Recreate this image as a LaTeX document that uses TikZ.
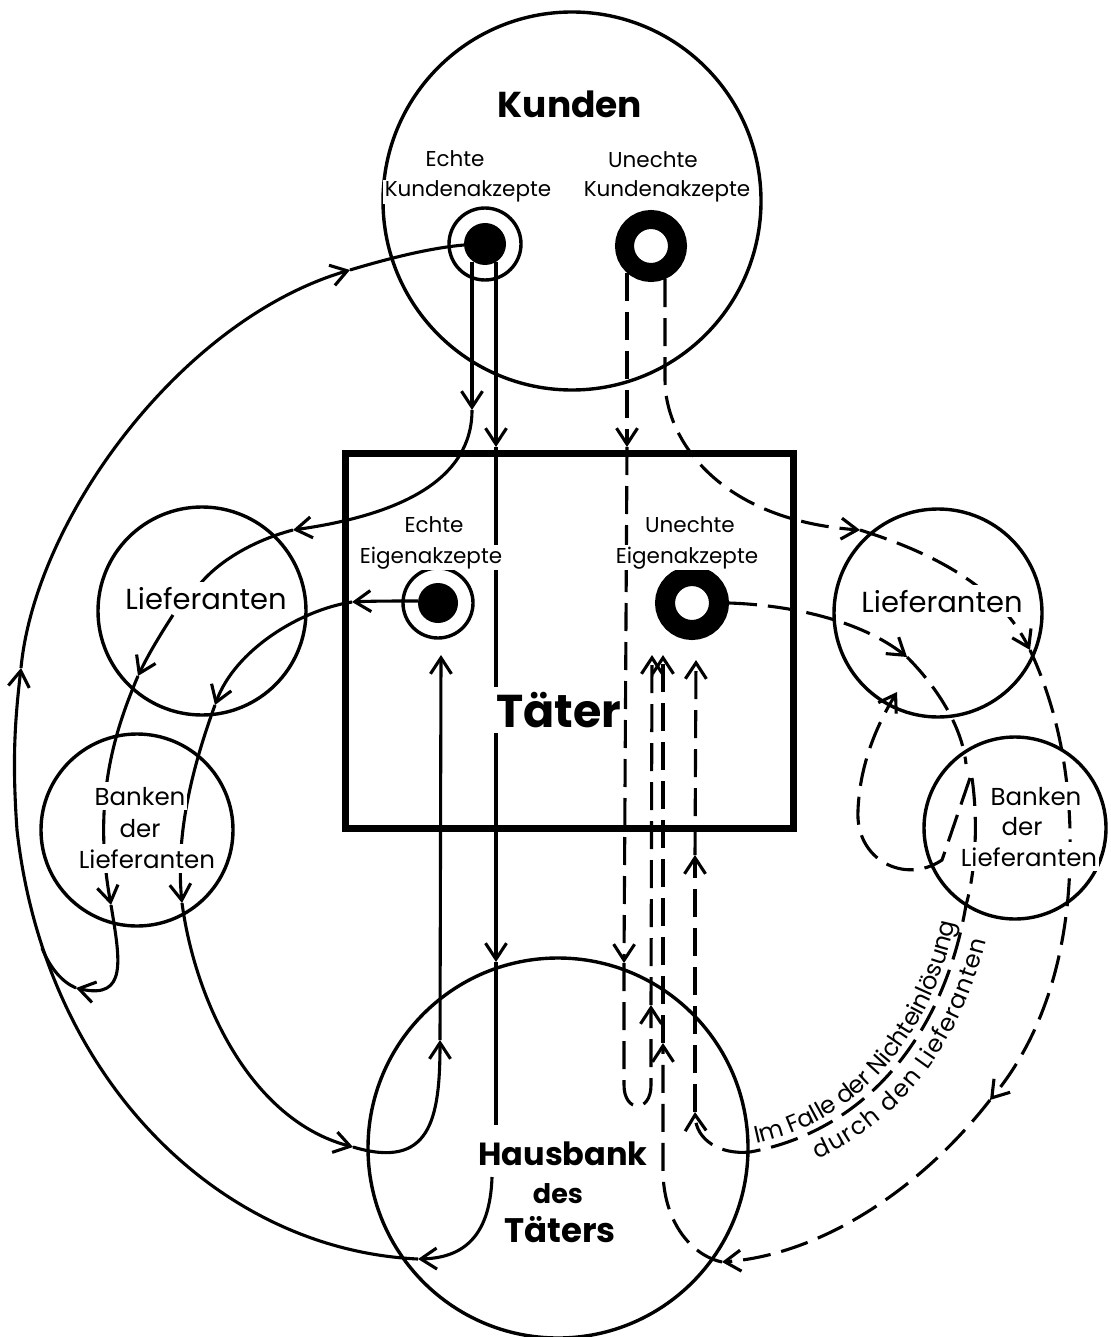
\documentclass[tikz,border=0pt]{standalone}
\usepackage{fontspec}
\setmainfont{Poppins}
\usetikzlibrary{arrows.meta,decorations.text}

\begin{document}
\begin{tikzpicture}[x=1pt,y=-1pt,>={Straight Barb[length=16pt,width=21pt]},
    flow/.style={line width=3.1pt},
    fake/.style={flow,dash pattern=on 28pt off 11pt},
    ring/.style={circle,draw,line width=3.4pt,inner sep=0pt,minimum size=#1},
    lbl/.style={font=\fontsize{21.5}{24}\selectfont,anchor=base,fill=white,inner sep=1.5pt},
    lieflbl/.style={font=\fontsize{29}{32}\selectfont,anchor=base,fill=white,inner xsep=2pt,inner ysep=5pt},
    banklbl/.style={font=\fontsize{24.5}{28}\selectfont,anchor=base,fill=white,inner xsep=2pt,inner ysep=5pt},
    head/.style={font=\bfseries\fontsize{#1}{#1}\selectfont,anchor=base,fill=white,inner sep=1.5pt}]
  \useasboundingbox (0,0) rectangle (1110,1337);

  % Kreise und Kasten
  \node[ring=378pt] (kunden) at (572,201) {};
  \node[ring=208pt] (liefl) at (202,611) {};
  \node[ring=208pt] (liefr) at (938,613) {};
  \node[ring=192pt] (bankl) at (137,830) {};
  \node[ring=182pt] (bankr) at (1015,828) {};
  \node[ring=380pt] (haus) at (558,1148) {};
  \node[draw,line width=7pt,inner sep=0pt,minimum width=448pt,minimum height=375pt] (taeter) at (569,640.5) {};

  % Akzepte
  \node[ring=72pt] (ekk) at (485,244) {};
  \fill (ekk.center) circle (21);
  \node[circle,draw,line width=19pt,inner sep=0pt,minimum size=53pt] (ukk) at (651,246) {};
  \node[ring=70pt] (eek) at (438,603) {};
  \fill (eek.center) circle (20);
  \node[circle,draw,line width=20pt,inner sep=0pt,minimum size=54pt] (uek) at (692,603) {};

  % echte Kundenakzepte
  \draw[flow,->] (472,262) -- (472,410);
  \draw[flow,->] (472,410) .. controls (472,480) and (400,515) .. (293,530);
  \draw[flow] (293,530) .. controls (255,540) and (220,560) .. (200,584);
  \draw[flow,->] (496,262) -- (496,447);
  \draw[flow] (496,447) -- (496,687);
  \draw[flow,->] (496,733) -- (496,962);
  \draw[flow] (496,962) -- (496,1125);
  \draw[flow,->] (492,1177) .. controls (490,1240) and (460,1258) .. (418,1259);
  \draw[flow] (418,1259) .. controls (220,1250) and (45,1080) .. (17,830);
  \draw[flow,->] (17,830) .. controls (12,760) and (15,720) .. (21,668);
  \draw[flow,->] (21,668) .. controls (35,520) and (180,320) .. (350,270);
  \draw[flow] (350,270) .. controls (390,258) and (430,248) .. (464,245);
  \draw[flow,->] (173,615) .. controls (160,635) and (148,655) .. (138,676);
  \draw[flow,->] (138,676) .. controls (115,730) and (92,800) .. (111,905);
  \draw[flow,->] (111,905) .. controls (120,960) and (128,1000) .. (76,988);
  \draw[flow] (76,988) .. controls (62,982) and (50,968) .. (42,948);

  % echte Eigenakzepte
  \draw[flow,->] (418,601) .. controls (395,601) and (372,601) .. (352,602);
  \draw[flow,->] (352,602) .. controls (300,610) and (235,650) .. (215,705);
  \draw[flow,->] (215,705) .. controls (195,760) and (175,830) .. (182,903);
  \draw[flow,->] (182,903) .. controls (195,1000) and (250,1120) .. (353,1147);
  \draw[flow,->] (353,1147) .. controls (430,1170) and (440,1120) .. (440,1040);
  \draw[flow,->] (440,1040) -- (441,655);

  % unechte Kundenakzepte
  \draw[fake,->] (627,273) -- (627,447);
  \draw[fake,->] (627,447) -- (624,963);
  \draw[fake,->] (624,963) -- (624,1085) .. controls (624,1113) and (651,1113) .. (651,1085) -- (651,1005);
  \draw[fake,->] (651,1005) -- (652,655);
  \draw[fake,->] (665,279) -- (665,380) .. controls (665,440) and (720,520) .. (860,530);
  \draw[fake,->] (860,530) .. controls (940,555) and (1000,590) .. (1030,650);
  \draw[fake,->] (1030,650) .. controls (1058,710) and (1072,780) .. (1070,860)
    .. controls (1068,960) and (1040,1040) .. (990,1100);
  \draw[fake,->] (990,1100) .. controls (920,1190) and (820,1255) .. (722,1262);
  \draw[fake,->] (722,1262) .. controls (690,1255) and (663,1220) .. (663,1170) -- (663,1043);
  \draw[fake,->] (663,1043) -- (663,655);

  % unechte Eigenakzepte
  \draw[fake,->] (729,603) .. controls (790,605) and (860,620) .. (907,657);
  \draw[fake] (907,657) .. controls (935,685) and (962,725) .. (966,764);
  \draw[fake,->] (970,778) -- (942,860) .. controls (905,885) and (855,860) .. (858,810)
    .. controls (860,760) and (880,720) .. (897,692);
  \draw[fake] (972,778) .. controls (978,820) and (976,870) .. (966,905)
    .. controls (945,1030) and (870,1130) .. (750,1152);
  \draw[fake,->] (750,1152) .. controls (720,1155) and (696,1140) .. (695,1112);
  \draw[fake,->] (695,1112) -- (695,855);
  \draw[fake,->] (695,855) -- (696,660);

  % Beschriftung
  \node[head=36] at (570,118) {Kunden};
  \node[lbl] at (455,167) {Echte};
  \node[lbl] at (468,197) {Kundenakzepte};
  \node[lbl] at (653,168) {Unechte};
  \node[lbl] at (667,197) {Kundenakzepte};
  \node[lbl] at (434,532) {Echte};
  \node[lbl] at (431,563) {Eigenakzepte};
  \node[lbl] at (690,532) {Unechte};
  \node[lbl] at (687,563) {Eigenakzepte};
  \node[head=46,fill=none] at (559,727) {Täter};
  \node[lieflbl] at (206,609) {Lieferanten};
  \node[lieflbl] at (942,612) {Lieferanten};
  \node[banklbl] at (140,805) {Banken};
  \node[banklbl,inner ysep=1pt] at (140,837) {der};
  \node[banklbl] at (147,868) {Lieferanten};
  \node[banklbl] at (1036,805) {Banken};
  \node[banklbl,inner ysep=1pt] at (1022,835) {der};
  \node[banklbl] at (1029,866) {Lieferanten};
  \node[head=32] at (563,1165) {Hausbank};
  \node[head=27] at (558,1203) {des};
  \node[head=34] at (560,1242) {Täters};
  \path[decorate,decoration={text along path,raise=7pt,text align={left indent=8pt},
      text={|\fontsize{24}{26}\selectfont|Im Falle der Nichteinlösung}}]
    (750,1152) .. controls (870,1130) and (945,1030) .. (966,905);
  \path[decorate,decoration={text along path,raise=-27pt,text align={left indent=58pt},
      text={|\fontsize{24}{26}\selectfont|durch den Lieferanten}}]
    (750,1152) .. controls (870,1130) and (945,1030) .. (966,905);
\end{tikzpicture}
\end{document}
